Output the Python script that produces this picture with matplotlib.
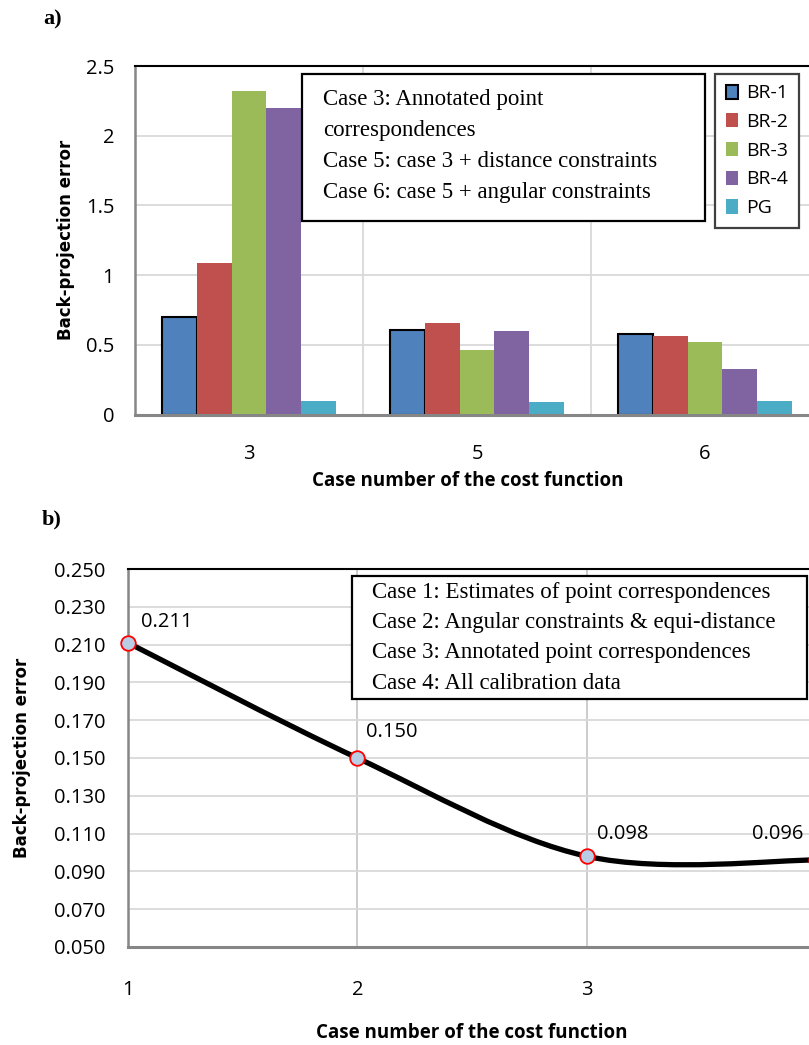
import matplotlib
matplotlib.use('Agg')
import matplotlib.pyplot as plt
import numpy as np
from matplotlib.path import Path
from matplotlib.patches import PathPatch, Rectangle
from matplotlib.ticker import FormatStrFormatter

# --- data, chart a) (bars) ---
cases_a = ['3', '5', '6']
series_names = ['BR-1', 'BR-2', 'BR-3', 'BR-4', 'PG']
br1 = [0.70, 0.61, 0.58]
br2 = [1.09, 0.66, 0.56]
br3 = [2.32, 0.46, 0.52]
br4 = [2.20, 0.60, 0.33]
pg = [0.10, 0.09, 0.10]
notes_a = ['Case 3: Annotated point',
           'correspondences',
           'Case 5: case 3 + distance constraints',
           'Case 6: case 5 + angular constraints']

# --- data, chart b) (smoothed line) ---
cases_b = [1, 2, 3, 4]
err_b = [0.211, 0.150, 0.098, 0.096]
notes_b = ['Case 1: Estimates of point correspondences',
           'Case 2: Angular constraints & equi-distance',
           'Case 3: Annotated point correspondences',
           'Case 4: All calibration data']

colors = ['#4F81BD', '#C0504D', '#9BBB59', '#8064A2', '#4BACC6']
grid_c = '#D9D9D9'
axis_c = '#868686'
tick_fs = 14.5
serif_fs = 16.5
plt.rcParams['font.family'] = 'Open Sans'

fig = plt.figure(figsize=(8.09, 10.45), dpi=100)

#### a) bar chart
ax1 = fig.add_axes([0.1669, 0.6033, 0.8455, 0.3335])
series = [br1, br2, br3, br4, pg]
w = 0.153
x = np.arange(len(cases_a))
for k, vals in enumerate(series):
    if k == 0:
        ax1.bar(x + (k - 2) * w, vals, w, color=colors[k], edgecolor='black',
                linewidth=1.5, label=series_names[k], zorder=3)
    else:
        ax1.bar(x + (k - 2) * w, vals, w, color=colors[k], linewidth=0,
                label=series_names[k], zorder=3)
ax1.set_xlim(-0.5, 2.5)
ax1.set_ylim(0, 2.5)
ax1.set_xticks(x)
ax1.set_xticklabels(cases_a)
ax1.set_xticks([0.5, 1.5], minor=True)
ax1.set_yticks(np.arange(0, 2.51, 0.5))
ax1.yaxis.set_major_formatter(FormatStrFormatter('%g'))
ax1.grid(axis='y', which='major', color=grid_c, linewidth=1.3, zorder=0)
ax1.grid(axis='x', which='minor', color=grid_c, linewidth=1.3, zorder=0)
ax1.tick_params(axis='both', which='both', length=0, labelsize=tick_fs)
ax1.tick_params(axis='y', pad=15)
ax1.tick_params(axis='x', pad=21)
ax1.set_ylabel('Back-projection error', family='DejaVu Sans', fontweight='bold',
               fontsize=12, va='center')
ax1.yaxis.set_label_coords(-0.1016, 0.5)
ax1.set_xlabel('Case number of the cost function', fontweight='bold', fontsize=13.5,
               va='center')
ax1.xaxis.set_label_coords(0.487, -0.19)

# notes box
ax1.add_patch(Rectangle((0.2442, 0.554), 0.5891, 0.424, transform=ax1.transAxes,
                        facecolor='white', edgecolor='black', linewidth=1.6, zorder=5))
for i, line in enumerate(notes_a):
    ax1.text(0.2749, 0.903 - i * 0.0883, line, transform=ax1.transAxes,
             family='Liberation Serif', fontsize=serif_fs, va='center', ha='left',
             zorder=6)

leg = ax1.legend(loc='upper left', bbox_to_anchor=(0.848, 0.978), fontsize=14,
                 handlelength=0.62, handleheight=0.75, handletextpad=0.42,
                 borderpad=0.55, labelspacing=0.55, fancybox=False,
                 edgecolor='#404040', framealpha=1, borderaxespad=0)
leg.get_frame().set_linewidth(1.6)
leg.set_zorder(6)

#### b) line chart
ax2 = fig.add_axes([0.158, 0.0938, 0.851, 0.3617])


def smooth_path(xs, ys):
    # Excel-like smoothed line: cubic Bezier through the points
    pts = np.column_stack([xs, ys]).astype(float)
    n = len(pts)
    verts = [pts[0]]
    codes = [Path.MOVETO]
    for i in range(n - 1):
        p0 = pts[max(i - 1, 0)]
        p1 = pts[i]
        p2 = pts[i + 1]
        p3 = pts[min(i + 2, n - 1)]
        verts += [p1 + (p2 - p0) / 6, p2 - (p3 - p1) / 6, p2]
        codes += [Path.CURVE4] * 3
    return Path(verts, codes)


ax2.add_patch(PathPatch(smooth_path(cases_b, err_b), facecolor='none',
                        edgecolor='black', linewidth=3.8, zorder=3,
                        capstyle='round', clip_on=False))
ax2.plot(cases_b, err_b, 'o', markersize=10.5, markerfacecolor='#B9CDE5',
         markeredgecolor='red', markeredgewidth=1.3, zorder=4, clip_on=False)
label_offsets = [(13, 21), (9, 26), (10, 22), (-64, 26)]
for xv, yv, off in zip(cases_b, err_b, label_offsets):
    ax2.annotate(f'{yv:.3f}', (xv, yv), xytext=off, textcoords='offset pixels',
                 fontsize=tick_fs, ha='left', va='center', zorder=5,
                 annotation_clip=False)

ax2.set_xlim(1, 4)
ax2.set_ylim(0.05, 0.25)
ax2.set_xticks([1, 2, 3])
ax2.set_yticks(np.arange(0.05, 0.2501, 0.02))
ax2.yaxis.set_major_formatter(FormatStrFormatter('%.3f'))
ax2.grid(axis='y', color=grid_c, linewidth=1.3, zorder=0)
ax2.grid(axis='x', color='#C8C8C8', linewidth=1.3, zorder=0)
ax2.tick_params(axis='both', length=0, labelsize=tick_fs)
ax2.tick_params(axis='y', pad=16)
ax2.tick_params(axis='x', pad=24)
ax2.set_ylabel('Back-projection error', family='DejaVu Sans', fontweight='bold',
               fontsize=12, va='center')
ax2.yaxis.set_label_coords(-0.154, 0.5)
ax2.set_xlabel('Case number of the cost function', fontweight='bold', fontsize=13.5,
               va='center')
ax2.xaxis.set_label_coords(0.5, -0.2275)

ax2.add_patch(Rectangle((0.3254, 0.656), 0.6614, 0.3255, transform=ax2.transAxes,
                        facecolor='white', edgecolor='black', linewidth=1.6, zorder=5))
for i, line in enumerate(notes_b):
    ax2.text(0.355, 0.939 - i * 0.0805, line, transform=ax2.transAxes,
             family='Liberation Serif', fontsize=serif_fs, va='center', ha='left',
             zorder=6)

for ax in (ax1, ax2):
    ax.spines['left'].set_color(axis_c)
    ax.spines['left'].set_linewidth(1.8)
    ax.spines['bottom'].set_color(axis_c)
    ax.spines['bottom'].set_linewidth(2.2)
    ax.spines['top'].set_color('black')
    ax.spines['top'].set_linewidth(1.5)
    ax.spines['right'].set_color('black')
    ax.spines['bottom'].set_zorder(4)

fig.text(0.053, 0.981, 'a)', family='Liberation Serif', fontweight='bold',
         fontsize=16, va='center', ha='left')
fig.text(0.051, 0.503, 'b)', family='Liberation Serif', fontweight='bold',
         fontsize=16, va='center', ha='left')

fig.savefig('out.png', dpi=100)
